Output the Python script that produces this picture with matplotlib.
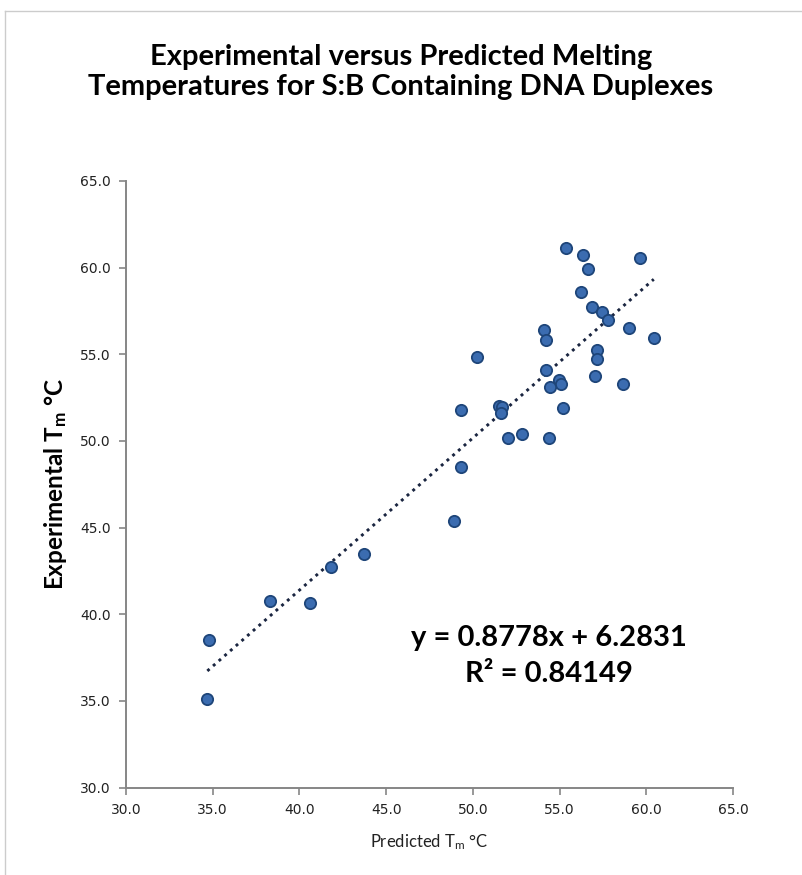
import matplotlib
matplotlib.use("Agg")
import matplotlib.pyplot as plt
from matplotlib.lines import Line2D
import numpy as np

# Data
predicted = [55.37, 56.37, 56.66, 59.64, 56.22, 56.87, 57.47, 57.78, 59.03, 60.43,
             54.11, 54.22, 57.14, 57.16, 50.24, 54.22, 54.95, 55.07, 54.45, 57.05,
             58.64, 49.34, 51.53, 51.67, 51.61, 55.22, 52.01, 52.84, 54.37, 49.34,
             48.93, 43.71, 41.80, 40.59, 38.30, 34.80, 34.69]
experimental = [61.14, 60.70, 59.93, 60.53, 58.59, 57.70, 57.45, 56.99, 56.49, 55.93,
                56.43, 55.82, 55.24, 54.71, 54.84, 54.09, 53.51, 53.28, 53.13, 53.74,
                53.28, 51.78, 52.01, 51.97, 51.59, 51.92, 50.19, 50.42, 50.19, 48.51,
                45.38, 43.50, 42.71, 40.67, 40.78, 38.52, 35.10]
slope = 0.8778
intercept = 6.2831
r_squared = 0.84149
ticks = [30.0, 35.0, 40.0, 45.0, 50.0, 55.0, 60.0, 65.0]

title = "Experimental versus Predicted Melting\nTemperatures for S:B Containing DNA Duplexes"

fig = plt.figure(figsize=(8.02, 8.75), dpi=100)
ax = fig.add_axes([0.1571, 0.0998, 0.7569, 0.6934])

ax.scatter(predicted, experimental, s=66, color="#3B6CB0", edgecolors="#1E4579",
           linewidths=1.3, zorder=3)

xl = np.array([min(predicted), max(predicted)])
ax.plot(xl, slope * xl + intercept, linestyle=(0, (1, 1.6)), color="#1A2540",
        lw=2.1, zorder=2)

ax.set_xlim(30, 65)
ax.set_ylim(30, 65)
ax.set_xticks(ticks)
ax.set_yticks(ticks)
ax.set_xticklabels([f"{t:.1f}" for t in ticks])
ax.set_yticklabels([f"{t:.1f}" for t in ticks])
for s in ["top", "right"]:
    ax.spines[s].set_visible(False)
for s in ["left", "bottom"]:
    ax.spines[s].set_color("#868686")
    ax.spines[s].set_linewidth(1.4)
ax.tick_params(direction="out", length=5, width=1.2, color="#868686",
               labelsize=10, labelcolor="#222222", pad=6)
for lab in ax.get_xticklabels() + ax.get_yticklabels():
    lab.set_family("DejaVu Sans")

ax.set_xlabel(r"Predicted $\mathregular{T_m}$ °C", family="Lato", fontsize=12,
              color="#222222", labelpad=11)
ax.set_ylabel(r"Experimental $\mathregular{T_m}$ °C", family="Lato", fontsize=17.5,
              fontweight="bold", color="#000000", labelpad=8)

fig.text(0.5, 0.918, title, ha="center", va="center", family="Lato",
         fontweight="bold", fontsize=21, linespacing=1.2)

ax.text(54.4, 38.62, f"y = {slope}x + {intercept}", ha="center", va="center",
        family="Lato", fontweight="bold", fontsize=21)
ax.text(54.4, 36.55, f"R² = {r_squared}", ha="center", va="center",
        family="Lato", fontweight="bold", fontsize=21)

# chart area border (left and top visible)
fig.add_artist(Line2D([5/802, 5/802], [0, 1 - 11/875], transform=fig.transFigure,
                      color="#CCCCCC", lw=1))
fig.add_artist(Line2D([5/802, 1], [1 - 11/875, 1 - 11/875], transform=fig.transFigure,
                      color="#CCCCCC", lw=1))

fig.savefig("out.png", dpi=100)
